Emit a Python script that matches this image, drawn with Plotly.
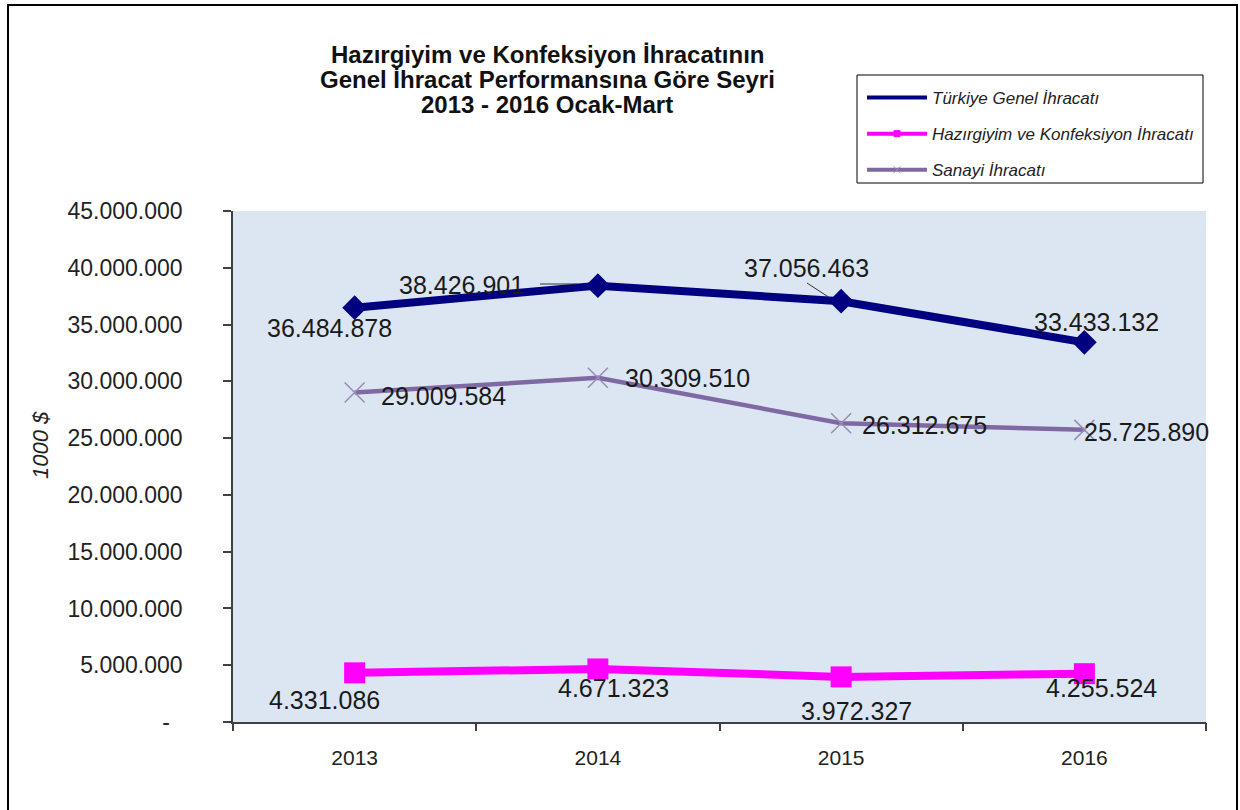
import plotly.graph_objects as go

years = ["2013", "2014", "2015", "2016"]
genel = [36484878, 38426901, 37056463, 33433132]
hazir = [4331086, 4671323, 3972327, 4255524]
sanayi = [29009584, 30309510, 26312675, 25725890]

names = ["Türkiye Genel İhracatı", "Hazırgiyim ve Konfeksiyon İhracatı", "Sanayi İhracatı"]
title_lines = ["Hazırgiyim ve Konfeksiyon İhracatının",
               "Genel İhracat Performansına Göre Seyri",
               "2013 - 2016 Ocak-Mart"]
ytickvals = [0, 5e6, 10e6, 15e6, 20e6, 25e6, 30e6, 35e6, 40e6, 45e6]
yticktext = ["-  ", "5.000.000", "10.000.000", "15.000.000", "20.000.000", "25.000.000",
             "30.000.000", "35.000.000", "40.000.000", "45.000.000"]


def fmt(v):
    return f"{v:,}".replace(",", ".")


W, H = 1240, 810
L, R, T, B = 233, 34, 211, 88
PW, PH = W - L - R, H - T - B


def px(x):
    return (x - L) / PW


def py(y):
    return (H - B - y) / PH


FONT = "Arial, Liberation Sans, sans-serif"
C_GENEL, C_HAZIR, C_SANAYI, C_SANAYI_M = "#000080", "#ff00ff", "#7e69a3", "#978cb3"

fig = go.Figure()
idx = list(range(len(years)))
fig.add_trace(go.Scatter(x=idx, y=genel, name=names[0], mode="lines+markers", showlegend=False,
                         line=dict(color=C_GENEL, width=8),
                         marker=dict(symbol="diamond", size=19, color=C_GENEL)))
fig.add_trace(go.Scatter(x=idx, y=hazir, name=names[1], mode="lines+markers", showlegend=False,
                         line=dict(color=C_HAZIR, width=8),
                         marker=dict(symbol="square", size=21, color=C_HAZIR)))
fig.add_trace(go.Scatter(x=idx, y=sanayi, name=names[2], mode="lines+markers", showlegend=False,
                         line=dict(color=C_SANAYI, width=4.5),
                         marker=dict(symbol="x-thin", size=20,
                                     line=dict(color=C_SANAYI_M, width=1.5))))
# legend entries (small symbols like the original)
leg_styles = [
    (C_GENEL, 4, "line-ew", 8, C_GENEL),
    (C_HAZIR, 4, "square", 6, C_HAZIR),
    (C_SANAYI, 4, "x-thin", 7, C_SANAYI_M),
]
for i, (c, w, sym, sz, mc) in enumerate(leg_styles):
    fig.add_trace(go.Scatter(x=[None], y=[None], name=names[i], mode="lines+markers",
                             legendgroup=str(i),
                             line=dict(color=c, width=w),
                             marker=dict(symbol=sym, size=sz, color=mc, line=dict(color=mc, width=1))))

font_lbl = dict(family=FONT, size=25, color="#1a1a1a")
annots = []
off_genel = [(-25, -20), (-136, 1), (-35, 33), (12, 20)]
off_sanayi = [(89, -3), (90, 0), (83, -2), (62, -2)]
off_hazir = [(-30, -27), (16, -19), (15, -34), (17, -14)]
for i in idx:
    annots.append(dict(x=i, y=genel[i], text=fmt(genel[i]), showarrow=False, font=font_lbl,
                       xshift=off_genel[i][0], yshift=off_genel[i][1]))
    annots.append(dict(x=i, y=sanayi[i], text=fmt(sanayi[i]), showarrow=False, font=font_lbl,
                       xshift=off_sanayi[i][0], yshift=off_sanayi[i][1]))
    annots.append(dict(x=i, y=hazir[i], text=fmt(hazir[i]), showarrow=False, font=font_lbl,
                       xshift=off_hazir[i][0], yshift=off_hazir[i][1]))

# title lines
for k, (line, yc) in enumerate(zip(title_lines, [54, 80, 105])):
    annots.append(dict(xref="paper", yref="paper", x=px(547), y=py(yc), xanchor="center",
                       yanchor="middle", showarrow=False, text=f"<b>{line}</b>",
                       font=dict(family=FONT, size=24, color="#111")))
# y-axis title
annots.append(dict(xref="paper", yref="paper", x=px(40), y=py(445), xanchor="center", yanchor="middle",
                   showarrow=False, textangle=-90, text="<i>1000 $</i>",
                   font=dict(family=FONT, size=22, color="#222")))

shapes = [
    dict(type="rect", xref="paper", yref="paper", x0=px(8), x1=px(1237), y0=py(813), y1=py(5),
         line=dict(color="black", width=2), fillcolor="rgba(0,0,0,0)", layer="below"),
    dict(type="rect", xref="paper", yref="paper", x0=px(857), x1=px(1203), y0=py(183), y1=py(75),
         line=dict(color="black", width=1), fillcolor="white", layer="below"),
    dict(type="line", xref="paper", yref="paper", x0=px(540), x1=px(577), y0=py(284), y1=py(284),
         line=dict(color="#333", width=1)),
    dict(type="line", xref="paper", yref="paper", x0=px(807), x1=px(830), y0=py(283), y1=py(298),
         line=dict(color="#333", width=1)),
]

fig.update_layout(
    width=W, height=H,
    margin=dict(l=L, r=R, t=T, b=B),
    paper_bgcolor="white",
    plot_bgcolor="#dce6f2",
    font=dict(family=FONT, color="#222"),
    showlegend=True,
    legend=dict(x=px(862), y=py(80), xanchor="left", yanchor="top",
                bgcolor="rgba(0,0,0,0)", borderwidth=0,
                font=dict(family=FONT, size=17, color="#222", style="italic"),
                tracegroupgap=11, itemwidth=60, traceorder="grouped"),
    annotations=annots,
    shapes=shapes,
    xaxis=dict(range=[-0.5, 3.5], tickmode="array", tickvals=idx, ticktext=years,
               showgrid=False, zeroline=False,
               showline=True, linecolor="#404040", linewidth=1.5,
               ticks="",
               tickfont=dict(family=FONT, size=21, color="#222"),
               ticklabelstandoff=16),
    xaxis2=dict(overlaying="x", range=[-0.5, 3.5], tickmode="array",
                tickvals=[-0.5, 0.5, 1.5, 2.5, 3.5], ticktext=["", "", "", "", ""],
                showgrid=False, zeroline=False, showline=False, side="bottom",
                ticks="outside", ticklen=8, tickcolor="#404040", tickwidth=1.5, anchor="y"),
    yaxis=dict(range=[0, 45e6], tickvals=ytickvals, ticktext=yticktext, showgrid=False,
               zeroline=False, showline=True, linecolor="#404040", linewidth=1.5,
               ticks="outside", ticklen=8, tickcolor="#404040", tickwidth=1.5,
               tickfont=dict(family=FONT, size=23, color="#222"),
               ticklabelstandoff=36),
)
fig.add_trace(go.Scatter(x=[None], y=[None], xaxis="x2", showlegend=False, hoverinfo="skip"))

fig.write_html("out.html", config={"displayModeBar": False},
               post_script="document.body.style.margin='0';document.body.style.overflow='hidden';")
